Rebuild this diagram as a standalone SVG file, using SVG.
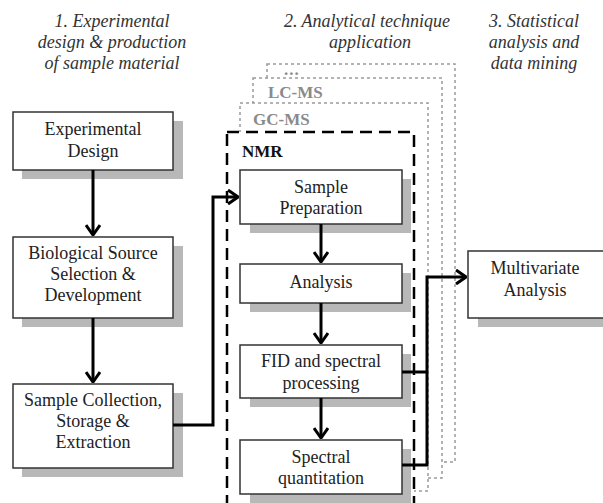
<svg xmlns="http://www.w3.org/2000/svg" width="603" height="503" viewBox="0 0 603 503">
<style>
.hdr{font-family:"Liberation Serif","Times New Roman",serif;font-style:italic;font-size:18px;fill:#333;text-anchor:middle}
.bx{fill:#fff;stroke:#333;stroke-width:1.5}
.sh{fill:#b8b8b8}
.t{font-family:"Liberation Serif","Times New Roman",serif;font-size:18px;fill:#222;text-anchor:middle}
.frm{fill:#fff;stroke:#9a9a9a;stroke-width:1.5;stroke-dasharray:3 3}
.fl{font-family:"Liberation Serif","Times New Roman",serif;font-weight:bold;font-size:17px;fill:#8a8a8a}
.ln{fill:none;stroke:#000;stroke-width:3}
</style>
<defs>
<marker id="ah" markerUnits="userSpaceOnUse" viewBox="0 0 12 16" refX="11" refY="8" markerWidth="12" markerHeight="16" orient="auto">
<path d="M1,1 L11,8 L1,15" fill="none" stroke="#000" stroke-width="3"/>
</marker>
</defs>
<rect width="603" height="503" fill="#fff"/>
<g id="headers">
<text class="hdr" x="112" y="27">1. Experimental</text>
<text class="hdr" x="112" y="48">design &amp; production</text>
<text class="hdr" x="112" y="69">of sample material</text>
<text class="hdr" x="367" y="27">2. Analytical technique</text>
<text class="hdr" x="370" y="48">application</text>
<text class="hdr" x="534" y="27">3. Statistical</text>
<text class="hdr" x="534" y="48">analysis and</text>
<text class="hdr" x="534" y="69">data mining</text>
</g>
<g id="frame-more">
<rect class="frm" x="267" y="64" width="188" height="398"/>
<text class="fl" x="284" y="75" font-size="26" letter-spacing="1">...</text>
</g>
<g id="frame-lcms">
<rect class="frm" x="253" y="78" width="189" height="400"/>
<text class="fl" x="268" y="98">LC-MS</text>
</g>
<g id="frame-gcms">
<rect class="frm" x="240" y="103" width="188" height="388"/>
<text class="fl" x="253" y="125">GC-MS</text>
</g>
<g id="frame-nmr">
<rect x="227" y="132" width="187" height="390" fill="#fff" stroke="#000" stroke-width="2.5" stroke-dasharray="12 7"/>
<text x="242" y="157" font-family="'Liberation Serif','Times New Roman',serif" font-weight="bold" font-size="17" fill="#111">NMR</text>
</g>
<g id="exp-design">
<rect class="sh" x="22" y="121" width="161" height="58"/>
<rect class="bx" x="13" y="112" width="160" height="58"/>
<text class="t" x="93" y="135">Experimental</text>
<text class="t" x="93" y="157">Design</text>
</g>
<g id="bio-source">
<rect class="sh" x="22" y="246" width="161" height="81"/>
<rect class="bx" x="13" y="237" width="160" height="81"/>
<text class="t" x="93" y="259">Biological Source</text>
<text class="t" x="93" y="280">Selection &amp;</text>
<text class="t" x="93" y="301">Development</text>
</g>
<g id="sample-collection">
<rect class="sh" x="22" y="393" width="161" height="84"/>
<rect class="bx" x="13" y="384" width="160" height="84"/>
<text class="t" x="93" y="406">Sample Collection,</text>
<text class="t" x="93" y="427">Storage &amp;</text>
<text class="t" x="93" y="448">Extraction</text>
</g>
<g id="sample-prep">
<rect class="sh" x="250" y="179" width="161" height="54"/>
<rect class="bx" x="240" y="170" width="162" height="54"/>
<text class="t" x="321" y="193">Sample</text>
<text class="t" x="321" y="214">Preparation</text>
</g>
<g id="analysis">
<rect class="sh" x="250" y="273" width="161" height="39"/>
<rect class="bx" x="240" y="264" width="162" height="39"/>
<text class="t" x="321" y="288">Analysis</text>
</g>
<g id="fid">
<rect class="sh" x="250" y="354" width="161" height="53"/>
<rect class="bx" x="240" y="345" width="162" height="53"/>
<text class="t" x="321" y="367">FID and spectral</text>
<text class="t" x="321" y="389">processing</text>
</g>
<g id="quant">
<rect class="sh" x="250" y="449" width="161" height="54"/>
<rect class="bx" x="240" y="440" width="162" height="54"/>
<text class="t" x="321" y="463">Spectral</text>
<text class="t" x="321" y="484">quantitation</text>
</g>
<g id="multivariate">
<rect class="sh" x="478" y="260" width="130" height="67"/>
<rect class="bx" x="468" y="251" width="140" height="67"/>
<text class="t" x="535" y="274">Multivariate</text>
<text class="t" x="535" y="296">Analysis</text>
</g>
<g id="connectors">
<path class="ln" d="M93,170 V235" marker-end="url(#ah)"/>
<path class="ln" d="M93,318 V382" marker-end="url(#ah)"/>
<path class="ln" d="M173,425 H213 V197 H238" marker-end="url(#ah)"/>
<path class="ln" d="M321,224 V262" marker-end="url(#ah)"/>
<path class="ln" d="M321,303 V343" marker-end="url(#ah)"/>
<path class="ln" d="M321,398 V438" marker-end="url(#ah)"/>
<path class="ln" d="M402,372 H427"/>
<path class="ln" d="M402,465 H427 V277 H466" marker-end="url(#ah)"/>
</g>
</svg>
